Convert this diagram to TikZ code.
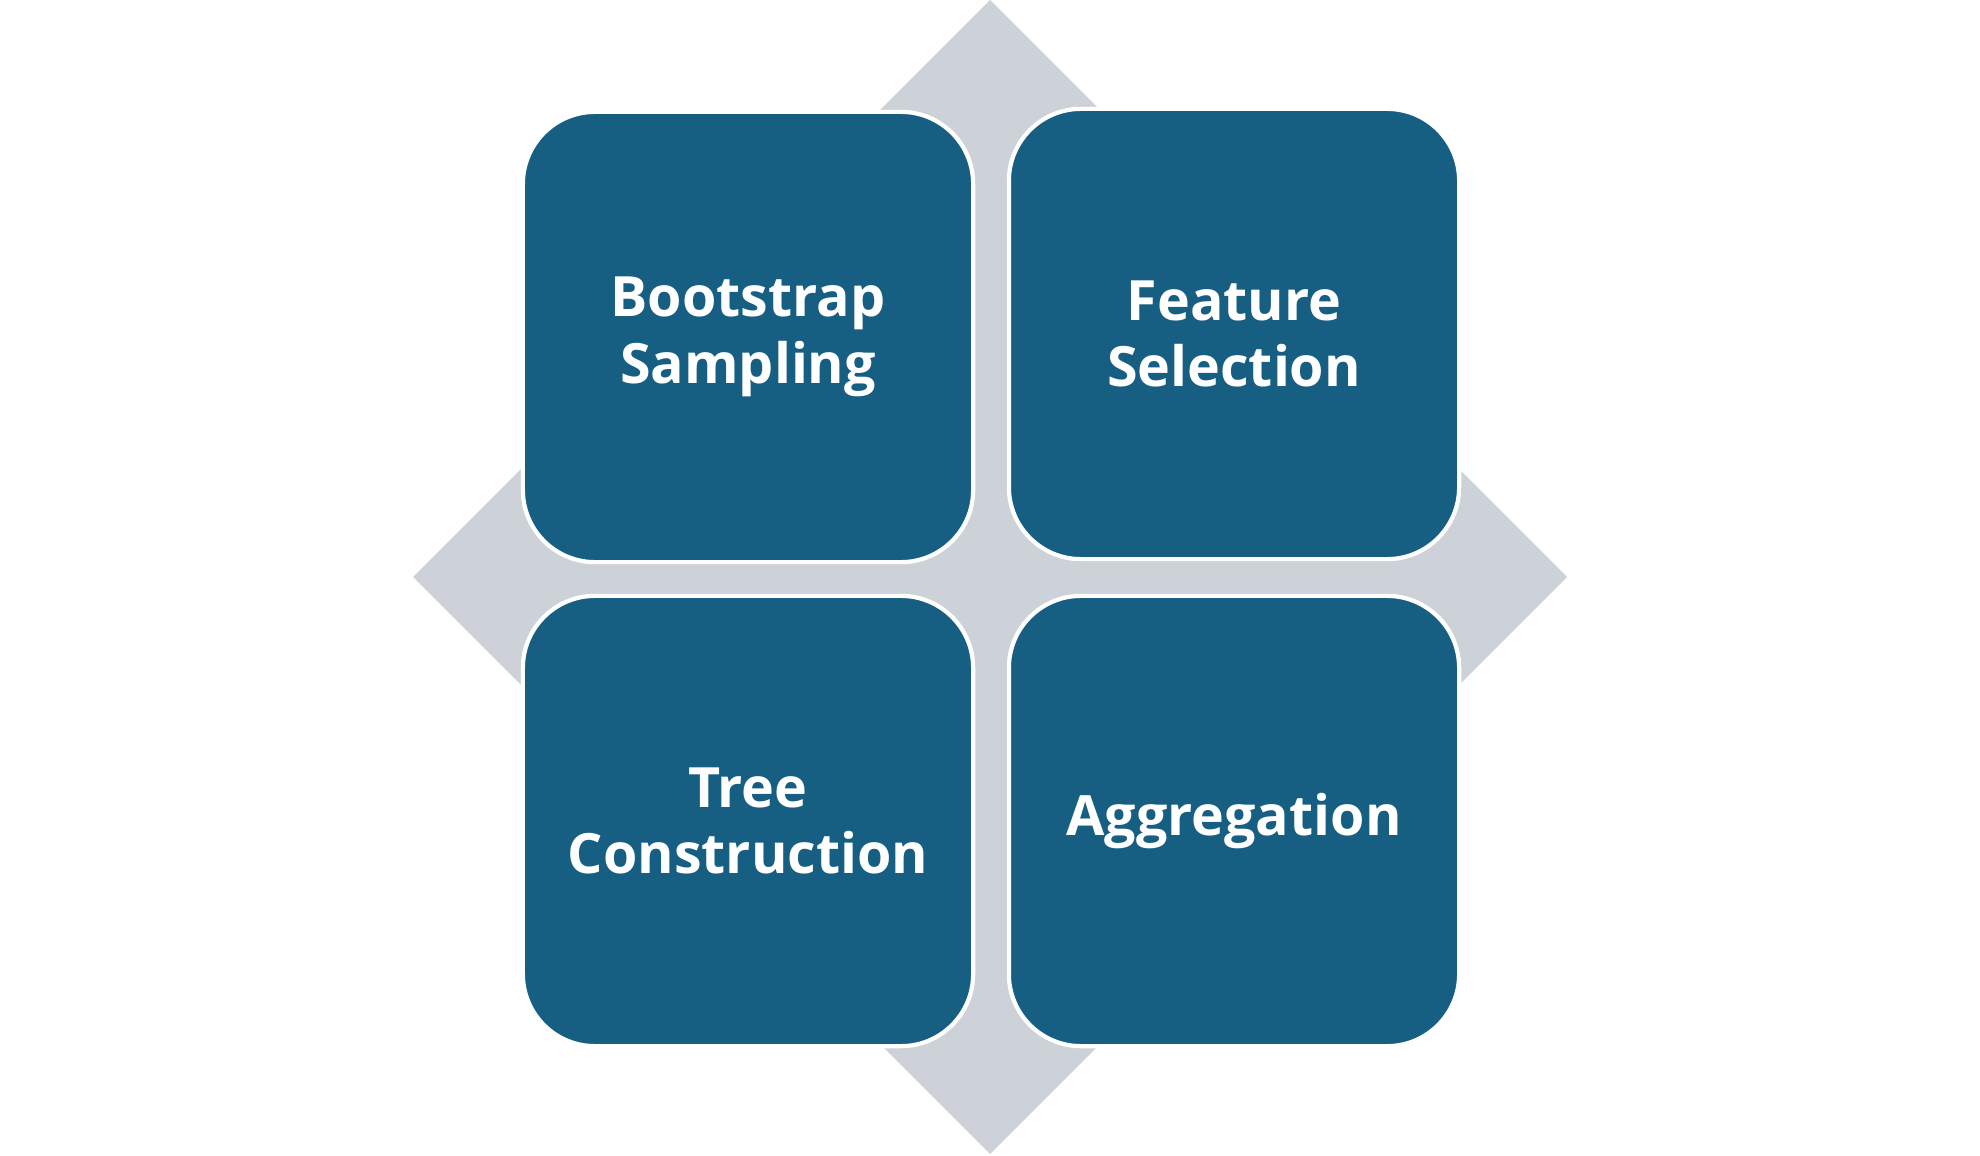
\documentclass[tikz,border=0pt]{standalone}
\usepackage{fontspec}
\setmainfont{Open Sans}
\definecolor{stageblue}{HTML}{175F82}
\definecolor{crossgray}{HTML}{CDD2D8}
\begin{document}
\begin{tikzpicture}[x=0.01cm, y=-0.01cm, font=\fontsize{15.8}{19}\selectfont\bfseries, line join=round, line cap=round,
	stage/.style={draw=white, line width=1.2pt, fill=stageblue, text=white, rounded corners=0.72cm, minimum width=4.50cm, minimum height=4.50cm, align=center, inner sep=0pt}]
		\useasboundingbox (0,0) rectangle (1980,1155);
		\fill[crossgray] (990,0)--(1567,577)--(990,1154)--(413,577)--cycle;
		\node[stage] (boot) at (748,337) {Bootstrap\\Sampling};
		\node[stage] (feat) at (1234,334) {Feature\\Selection};
		\node[stage] (tree) at (748,821) {Tree\\Construction};
		\node[stage] (aggr) at (1234,821) {Aggregation};
	\end{tikzpicture}
\end{document}
